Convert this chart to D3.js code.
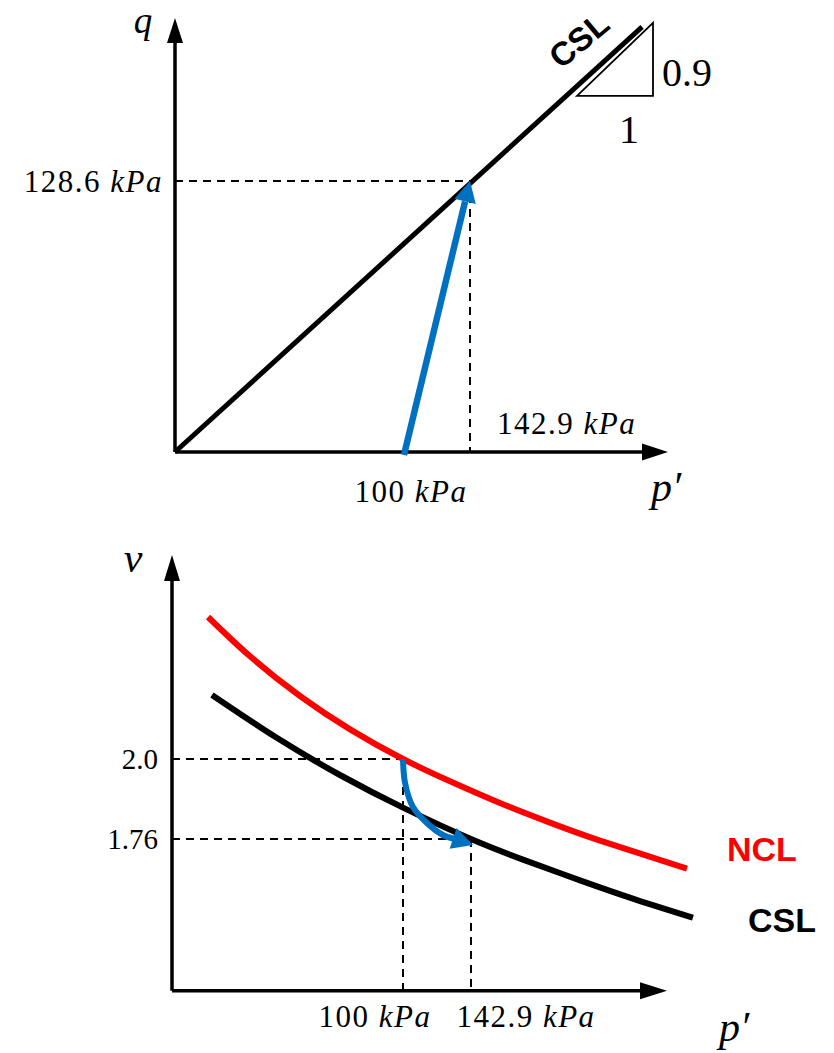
<!DOCTYPE html>
<html>
<head>
<meta charset="utf-8">
<script src="https://cdn.jsdelivr.net/npm/d3@7"></script>
<style>
  body { margin: 0; background: #fff; }
  svg text { font-family: "Liberation Serif", serif; }
  .bold-label { font-family: "Liberation Sans", Arial, sans-serif !important; font-weight: bold; }
</style>
</head>
<body>
<div id="chart"></div>
<script>
// ---- top panel: q - p' ----
const pTopTicks = [0, 100, 142.9, 230];      // last value = axis tip
const qTopTicks = [0, 128.6];
const qTopMax = 206;
const cslTop = [[0, 0], [218.6, 201.7]];
const stressPathTop = [[100, 0], [142.9, 128.6]];
const slopeTriangle = [[190, 169], [223.4, 169], [223.4, 203.6]];
const slopeLabels = { run: '1', rise: '0.9' };

// ---- bottom panel: v - p' ----
const pBotTicks = [0, 100, 142.9, 300];      // last value = axis tip
const vTicks = [1.76, 2.0];
const vAxisRange = [1.305, 2.612];
const nclPts = [[15.6, 2.426], [33.8, 2.308], [55.4, 2.189], [77.1, 2.089], [100, 2.0],
                [129.7, 1.933], [166.1, 1.868], [206.2, 1.809], [246.3, 1.755], [316, 1.671]];
const cslPts = [[17.3, 2.192], [45.0, 2.065], [72.7, 1.952], [101.3, 1.851], [142.9, 1.76],
                [186.2, 1.696], [230.3, 1.636], [274.4, 1.579], [320.8, 1.524]];
const stressPathBot = [[100, 2.0], [101.3, 1.928], [106.3, 1.856], [115.1, 1.808],
                       [125.2, 1.772], [132.8, 1.76]];

const BLUE = '#0070C0';
const RED = '#FF0000';
const LABEL_SIZE = 31;

const svg = d3.select('#chart').append('svg')
    .attr('width', 834).attr('height', 1053);

// arrow head polygon: tip + direction from (fx,fy)
function drawHead(g, fx, fy, tx, ty, len, halfW, color) {
    const dx = tx - fx, dy = ty - fy;
    const d = Math.hypot(dx, dy);
    const ux = dx / d, uy = dy / d;
    const bx = tx - ux * len, by = ty - uy * len;
    g.append('polygon')
        .attr('points', [[tx, ty], [bx - uy * halfW, by + ux * halfW], [bx + uy * halfW, by - ux * halfW]].join(' '))
        .attr('fill', color);
    return [bx, by];
}

function arrowLine(g, x1, y1, x2, y2, opts) {
    const base = drawHead(g, x1, y1, x2, y2, opts.len, opts.halfW, opts.color);
    g.append('line')
        .attr('x1', x1).attr('y1', y1)
        .attr('x2', base[0]).attr('y2', base[1])
        .attr('stroke', opts.color)
        .attr('stroke-width', opts.width)
        .attr('stroke-linecap', opts.cap || 'butt');
}

function kpaLabel(g, x, y, num, anchor) {
    const t = g.append('text').attr('x', x).attr('y', y)
        .attr('text-anchor', anchor)
        .style('font-size', LABEL_SIZE + 'px')
        .style('letter-spacing', '1.5px');
    t.append('tspan').text(num + ' ');
    t.append('tspan').style('font-style', 'italic').text('kPa');
    return t;
}

function dashed(g, x1, y1, x2, y2) {
    g.append('line')
        .attr('x1', x1).attr('y1', y1).attr('x2', x2).attr('y2', y2)
        .attr('stroke', '#000').attr('stroke-width', 2)
        .attr('stroke-dasharray', '8,6');
}

// ================= TOP =================
function drawTop() {
    const g = svg.append('g').attr('class', 'top-panel');
    const x = d3.scaleLinear().domain(pTopTicks).range([175, 404, 470, 668]);
    const y = d3.scaleLinear().domain(qTopTicks).range([452, 181]);

    // dashed guides
    dashed(g, x(0), y(128.6), x(142.9), y(128.6));
    dashed(g, x(142.9), y(128.6), x(142.9), y(0));

    // axes
    arrowLine(g, x(0), y(0), x(0), y(qTopMax), { len: 25, halfW: 8, color: '#000', width: 3.5 });
    arrowLine(g, x(0), y(0), x(pTopTicks[3]), y(0), { len: 26, halfW: 8.5, color: '#000', width: 3.5 });

    // CSL
    g.append('path')
        .datum(cslTop)
        .attr('d', d3.line().x(d => x(d[0])).y(d => y(d[1])))
        .attr('fill', 'none').attr('stroke', '#000').attr('stroke-width', 5);

    // slope triangle
    g.append('path')
        .datum(slopeTriangle)
        .attr('d', d3.line().x(d => x(d[0])).y(d => y(d[1])).curve(d3.curveLinearClosed))
        .attr('fill', 'none').attr('stroke', '#000').attr('stroke-width', 1.8);

    // stress path
    const s = stressPathTop;
    arrowLine(g, x(s[0][0]), y(s[0][1]) + 3, x(s[1][0]), y(s[1][1]),
        { len: 21, halfW: 11, color: BLUE, width: 6.5 });

    // labels
    g.append('text').attr('x', 143).attr('y', 33).attr('text-anchor', 'middle')
        .style('font-size', '37px').style('font-style', 'italic').text('q');
    kpaLabel(g, 163, 192, '128.6', 'end');
    kpaLabel(g, 497, 434, '142.9', 'start');
    kpaLabel(g, 411, 502, '100', 'middle');
    g.append('text').attr('x', 651).attr('y', 501)
        .style('font-size', '42px').style('font-style', 'italic').text('p′');

    g.append('text').attr('class', 'bold-label')
        .attr('transform', 'translate(579,40) rotate(-40)')
        .attr('text-anchor', 'middle').attr('dominant-baseline', 'central')
        .style('font-size', '33px').text('CSL');

    g.append('text').attr('x', x(slopeTriangle[1][0]) + 9).attr('y', 86)
        .style('font-size', '40px').text(slopeLabels.rise);
    g.append('text').attr('x', 629).attr('y', 143).attr('text-anchor', 'middle')
        .style('font-size', '40px').text(slopeLabels.run);
}

// ================= BOTTOM =================
function drawBottom() {
    const g = svg.append('g').attr('class', 'bottom-panel');
    const x = d3.scaleLinear().domain(pBotTicks).range([172, 403, 471, 667]);
    const y = d3.scaleLinear().domain(vTicks).range([839, 759]);
    const v0 = vAxisRange[0];

    // dashed guides
    dashed(g, x(0), y(2.0), x(100), y(2.0));
    dashed(g, x(100), y(2.0), x(100), y(v0));
    dashed(g, x(0), y(1.76), x(142.9), y(1.76));
    dashed(g, x(142.9), y(1.76), x(142.9), y(v0));

    // axes
    arrowLine(g, x(0), y(v0), x(0), y(vAxisRange[1]), { len: 26, halfW: 8, color: '#000', width: 3.5 });
    arrowLine(g, x(0), y(v0), x(pBotTicks[3]), y(v0), { len: 27, halfW: 8.5, color: '#000', width: 3.5 });

    const smooth = d3.line().x(d => x(d[0])).y(d => y(d[1])).curve(d3.curveNatural);
    const path = d3.line().x(d => x(d[0])).y(d => y(d[1])).curve(d3.curveCatmullRom);

    g.append('path').datum(nclPts).attr('d', smooth)
        .attr('fill', 'none').attr('stroke', RED).attr('stroke-width', 6);
    g.append('path').datum(cslPts).attr('d', smooth)
        .attr('fill', 'none').attr('stroke', '#000').attr('stroke-width', 6);

    // curved stress path
    g.append('path').datum(stressPathBot).attr('d', path)
        .attr('fill', 'none').attr('stroke', BLUE).attr('stroke-width', 6);
    const n = stressPathBot.length;
    const a = stressPathBot[n - 2], b = stressPathBot[n - 1];
    const ex = x(b[0]), ey = y(b[1]);
    const dx = ex - x(a[0]), dy = ey - y(a[1]);
    const d = Math.hypot(dx, dy);
    drawHead(g, ex - dx / d * 2, ey - dy / d * 2, ex + dx / d * 19, ey + dy / d * 19, 21, 11, BLUE);

    // labels
    g.append('text').attr('x', 133).attr('y', 572).attr('text-anchor', 'middle')
        .style('font-size', '42px').style('font-style', 'italic').text('v');
    g.append('text').attr('x', 158).attr('y', y(2.0) + 10).attr('text-anchor', 'end')
        .style('font-size', '29px').text('2.0');
    g.append('text').attr('x', 158).attr('y', y(1.76) + 10).attr('text-anchor', 'end')
        .style('font-size', '29px').text('1.76');
    kpaLabel(g, 375, 1027, '100', 'middle');
    kpaLabel(g, 526, 1027, '142.9', 'middle');
    g.append('text').attr('x', 719).attr('y', 1041)
        .style('font-size', '42px').style('font-style', 'italic').text('p′');

    g.append('text').attr('class', 'bold-label').attr('x', 727).attr('y', 861)
        .attr('fill', RED).style('font-size', '34px').text('NCL');
    g.append('text').attr('class', 'bold-label').attr('x', 748).attr('y', 932)
        .attr('fill', '#000').style('font-size', '34px').text('CSL');
}

drawTop();
drawBottom();
</script>
</body>
</html>
